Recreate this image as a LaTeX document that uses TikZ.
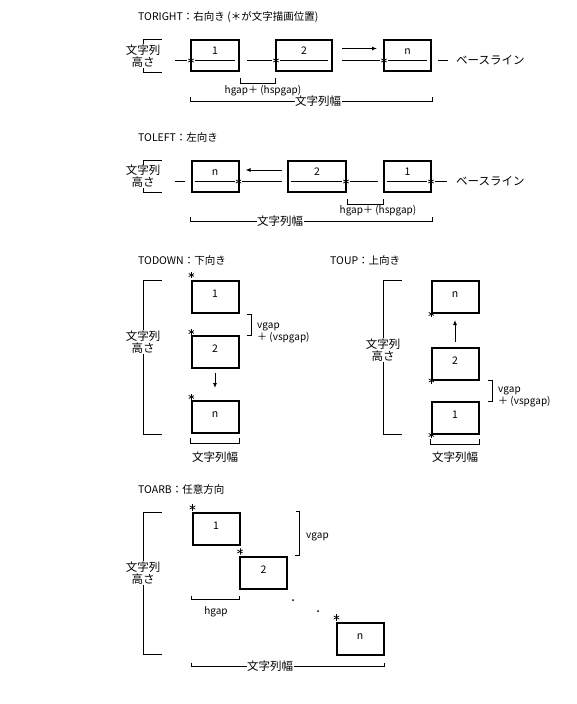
\documentclass[tikz,border=0pt]{standalone}
\usepackage{fontspec}
\setmainfont{Noto Sans CJK JP}
\usetikzlibrary{positioning,arrows.meta,calc}
\tikzset{
  chbox/.style={rectangle,draw=black,line width=2pt,minimum width=47pt,minimum height=31pt,
    inner sep=0pt,font=\fontsize{10.5}{10}\selectfont,text height=7pt},
  hbox/.style={chbox,text depth=10pt},
  vbox/.style={chbox,minimum height=32pt,text depth=6pt},
  ast/.style={circle,inner sep=0pt,minimum size=7pt,path picture={
    \foreach \ang in {90,30,-30}
      \draw[line width=0.75pt] ($(path picture bounding box.center)+(\ang:3.2pt)$)
        -- ($(path picture bounding box.center)+(\ang+180:3.2pt)$);}},
  bsl/.style={line width=0.9pt},
  brk/.style={line width=0.9pt},
  flow/.style={-{Latex[length=5pt,width=4pt]},line width=0.9pt},
  lbl/.style={inner sep=1pt,font=\fontsize{11.5}{12}\selectfont,align=center},
  hlbl/.style={lbl,fill=white,inner sep=0.5pt},
  gaplbl/.style={inner sep=0pt,font=\fontsize{10}{9}\selectfont,align=left},
  ttl/.style={anchor=west,inner sep=0pt,font=\fontsize{10.5}{10}\selectfont},
}
\begin{document}
\begin{tikzpicture}[x=1pt,y=-1pt]
  \path[fill=white] (0,0) rectangle (576,704);

  % TORIGHT
  \node[ttl] (t1) at (138,17) {TORIGHT：右向き (＊が文字描画位置)};
  \node[hbox,minimum width=48pt] (r1) at (215,55.5) {1};
  \node[hbox,minimum width=56pt] (r2) at (304,55.5) {2};
  \node[hbox] (r3) at (407.5,55.5) {n};
  \node[ast] (r1a) at ($(r1.west)+(1,5)$) {};
  \node[ast] (r2a) at ($(r2.west)+(1,5)$) {};
  \node[ast] (r3a) at ($(r3.west)+(1,5)$) {};
  \draw[bsl] (r1a.east) -- ($(r1.east)+(-5,5)$);
  \draw[bsl] (r2a.east) -- ($(r2.east)+(-5,5)$);
  \draw[bsl] (r3a.east) -- ($(r3.east)+(-5,5)$);
  \draw[bsl] ($(r1a.west)+(-12,0)$) -- (r1a.west);
  \draw[bsl] ($(r1.east)+(7,5)$) -- (r2a.west);
  \draw[bsl] ($(r2.east)+(9,5)$) -- (r3a.west);
  \draw[flow] ($(r2.east)+(9,-7)$) -- ($(r3.west)+(-6,-7)$);
  \draw[bsl] ($(r3.east)+(6,5)$) -- ++(10,0);
  \node[lbl,anchor=west] (bl1) at ($(r3.east)+(23,5)$) {ベースライン};
  \draw[brk] (162,39) -| (143,72) -- (162,72);
  \node[hlbl] (h1) at (143,56) {文字列\\高さ};
  \draw[brk] ($(r1.south east)+(0,6)$) -- ++(0,5) -| ($(r2.south west)+(0,6)$);
  \node[gaplbl] (g1) at (263,91) {hgap＋ (hspgap)};
  \draw[brk] ($(r1.south west)+(0,25)$) -- ++(0,4) -| ($(r3.south east)+(0,25)$);
  \node[hlbl] (w1) at (318,101) {文字列幅};

  % TOLEFT
  \node[ttl] (t2) at (138,137) {TOLEFT：左向き};
  \node[hbox] (l3) at (215,176.5) {n};
  \node[hbox,minimum width=58pt] (l2) at (317,176.5) {2};
  \node[hbox] (l1) at (407.5,176.5) {1};
  \node[ast] (l3a) at ($(l3.east)+(-1,5)$) {};
  \node[ast] (l2a) at ($(l2.east)+(-1,5)$) {};
  \node[ast] (l1a) at ($(l1.east)+(-1,5)$) {};
  \draw[bsl] ($(l3.west)+(4,5)$) -- (l3a.west);
  \draw[bsl] ($(l2.west)+(4,5)$) -- (l2a.west);
  \draw[bsl] ($(l1.west)+(4,5)$) -- (l1a.west);
  \draw[bsl] ($(l3.west)+(-16,5)$) -- ++(10,0);
  \draw[bsl] (l3a.east) -- ($(l2.west)+(-5,5)$);
  \draw[flow] ($(l2.west)+(-5,-6.5)$) -- ($(l3.east)+(6,-6.5)$);
  \draw[bsl] (l2a.east) -- ($(l1.west)+(-5,5)$);
  \draw[bsl] (l1a.east) -- ++(12,0);
  \node[lbl,anchor=west] (bl2) at ($(l1.east)+(23,5)$) {ベースライン};
  \draw[brk] (162,160) -| (143,192) -- (162,192);
  \node[hlbl] (h2) at (143,176.5) {文字列\\高さ};
  \draw[brk] ($(l2.south east)+(0,6)$) -- ++(0,5) -| ($(l1.south west)+(0,6)$);
  \node[gaplbl] (g2) at (378,211) {hgap＋ (hspgap)};
  \draw[brk] ($(l3.south west)+(0,24)$) -- ++(0,4) -| ($(l1.south east)+(0,24)$);
  \node[hlbl] (w2) at (280,221.5) {文字列幅};

  % TODOWN
  \node[ttl] (t3) at (138,260) {TODOWN：下向き};
  \node[vbox] (d1) at (215,297) {1};
  \node[vbox] (d2) at (215,352) {2};
  \node[vbox] (d3) at (215,417) {n};
  \node[ast] (d1a) at ($(d1.north west)+(1,-5)$) {};
  \node[ast] (d2a) at ($(d2.north west)+(1,-3)$) {};
  \node[ast] (d3a) at ($(d3.north west)+(1,-3)$) {};
  \draw[flow] ($(d2.south)+(0,4)$) -- ($(d3.north)+(0,-12)$);
  \draw[brk] ($(d1.south east)+(7,0)$) -- ++(5,0) |- ($(d2.north east)+(7,0)$);
  \node[gaplbl,anchor=west] (g3) at (257,333) {vgap\\＋ (vspgap)};
  \draw[brk] (162,280) -| (143,434) -- (162,434);
  \node[hlbl] (h3) at (143,342) {文字列\\高さ};
  \draw[brk] ($(d3.south west)+(0,4)$) -- ++(0,5) -| ($(d3.south east)+(0,4)$);
  \node[lbl] (w3) at (215,457) {文字列幅};

  % TOUP
  \node[ttl] (t4) at (330,260) {TOUP：上向き};
  \node[vbox] (u3) at (455,297) {n};
  \node[vbox] (u2) at (455,363.5) {2};
  \node[vbox] (u1) at (455,418) {1};
  \node[ast] (u3a) at ($(u3.south west)+(1,0)$) {};
  \node[ast] (u2a) at ($(u2.south west)+(1,0)$) {};
  \node[ast] (u1a) at ($(u1.south west)+(1,0)$) {};
  \draw[flow] ($(u2.north)+(0,-5)$) -- ($(u3.south)+(0,6)$);
  \draw[brk] ($(u2.south east)+(8,0)$) -- ++(5,0) |- ($(u1.north east)+(8,0)$);
  \node[gaplbl,anchor=west] (g4) at (498,397) {vgap\\＋ (vspgap)};
  \draw[brk] (402,280) -| (383,434) -- (402,434);
  \node[hlbl] (h4) at (383,350) {文字列\\高さ};
  \draw[brk] ($(u1.south west)+(0,4)$) -- ++(0,5) -| ($(u1.south east)+(0,4)$);
  \node[lbl] (w4) at (455,457) {文字列幅};

  % TOARB
  \node[ttl] (t5) at (138,490) {TOARB：任意方向};
  \node[vbox] (a1) at (216,528.5) {1};
  \node[vbox] (a2) at (263.5,572.5) {2};
  \node[vbox] (a3) at (360,638.5) {n};
  \node[ast] (a1a) at ($(a1.north west)+(1,-4)$) {};
  \node[ast] (a2a) at ($(a2.north west)+(1,-4)$) {};
  \node[ast] (a3a) at ($(a3.north west)+(1,-4)$) {};
  \draw[brk] ($(a1.north east)+(55,0)$) -- ++(4,0) |- ($(a2.north east)+(7,0)$);
  \node[gaplbl,anchor=west] (g5) at (306,537) {vgap};
  \draw[brk] ($(a1.south west)+(0,50)$) -- ++(0,4) -| ($(a2.south west)+(0,6)$);
  \node[gaplbl] (g6) at (216,612) {hgap};
  \fill (293,600) circle (1);
  \fill (318,611) circle (1);
  \draw[brk] (162,512) -| (143,654) -- (162,654);
  \node[hlbl] (h5) at (143,573) {文字列\\高さ};
  \coordinate (wl) at (a1.south west |- a3.south);
  \draw[brk] ($(wl)+(0,7)$) -- ++(0,4) -| ($(a3.south east)+(0,7)$);
  \node[hlbl] (w5) at (270,666) {文字列幅};
\end{tikzpicture}
\end{document}
